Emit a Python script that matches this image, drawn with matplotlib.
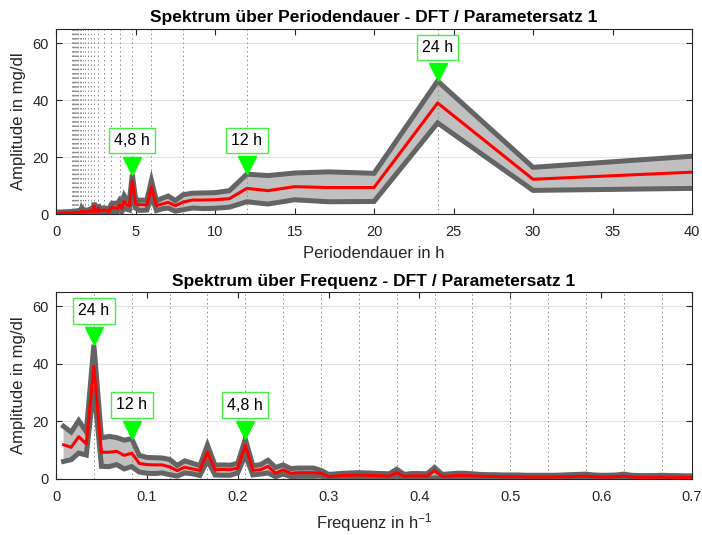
import numpy as np
import matplotlib
matplotlib.use("Agg")
import matplotlib.pyplot as plt
from matplotlib import ticker
from matplotlib.transforms import offset_copy

plt.rcParams['font.family'] = ['Liberation Sans', 'DejaVu Sans']
plt.rcParams['mathtext.fontset'] = 'custom'
plt.rcParams['mathtext.rm'] = 'Liberation Sans'
plt.rcParams['mathtext.it'] = 'Liberation Sans:italic'
plt.rcParams['mathtext.bf'] = 'Liberation Sans:bold'

# DFT bins: k / 120 h (5 days of data), k = 1..84 visible up to 0.7 1/h
n_hours = 120
bins = np.arange(1, 85)

amp_upper = [18.3, 16.3, 20.3, 16.4, 46.7, 14.3, 14.8, 14.4, 13.5, 14.0,
             8.2, 7.5, 7.4, 7.3, 6.8, 4.7, 6.3, 5.5, 4.6, 11.8,
             4.8, 4.9, 4.8, 5.5, 13.9, 4.6, 5.0, 6.5, 4.0, 4.9,
             3.6, 3.8, 3.8, 3.8, 3.0, 1.6, 1.8, 2.0, 2.1, 2.2,
             2.1, 2.0, 1.9, 1.8, 3.4, 1.6, 1.9, 1.9, 1.8, 4.0,
             1.6, 1.8, 2.0, 2.0, 1.8, 1.6, 1.5, 1.5, 1.4, 1.4,
             1.4, 1.3, 1.3, 1.3, 1.3, 1.3, 1.4, 1.5, 1.6, 1.7,
             1.4, 1.3, 1.3, 1.4, 1.7, 1.3, 1.2, 1.2, 1.2, 1.3,
             1.2, 1.2, 1.1, 1.1]
amp_mean = [11.9, 11.0, 14.7, 12.2, 39.0, 9.3, 9.3, 9.6, 8.2, 9.0,
            5.4, 5.0, 4.9, 4.9, 4.2, 2.9, 4.1, 3.5, 3.0, 9.4,
            3.2, 3.3, 3.2, 3.8, 11.7, 3.0, 3.2, 4.4, 2.0, 3.2,
            2.0, 2.2, 2.2, 2.2, 2.0, 0.8, 1.0, 1.2, 1.3, 1.4,
            1.3, 1.2, 1.1, 1.0, 2.2, 0.9, 1.1, 1.1, 1.0, 2.8,
            0.9, 1.0, 1.2, 1.2, 1.1, 1.0, 0.9, 0.9, 0.8, 0.8,
            0.8, 0.7, 0.7, 0.7, 0.7, 0.7, 0.8, 0.8, 0.9, 1.0,
            0.8, 0.7, 0.7, 0.8, 1.0, 0.7, 0.6, 0.6, 0.6, 0.7,
            0.6, 0.6, 0.5, 0.5]
amp_lower = [6.1, 6.7, 9.0, 8.3, 32.0, 4.4, 4.3, 5.0, 3.5, 4.3,
             2.4, 2.0, 1.9, 2.1, 1.5, 1.0, 2.1, 1.8, 1.2, 6.5,
             1.4, 1.3, 1.3, 2.1, 8.3, 1.4, 1.7, 2.1, 0.8, 1.7,
             0.8, 0.9, 0.9, 0.9, 1.0, 0.2, 0.3, 0.4, 0.5, 0.5,
             0.5, 0.4, 0.4, 0.3, 1.0, 0.3, 0.4, 0.4, 0.3, 0.4,
             0.3, 0.3, 0.4, 0.4, 0.4, 0.3, 0.2, 0.2, 0.2, 0.2,
             0.2, 0.2, 0.2, 0.2, 0.2, 0.2, 0.2, 0.2, 0.3, 0.3,
             0.2, 0.2, 0.2, 0.2, 0.3, 0.2, 0.1, 0.1, 0.1, 0.2,
             0.1, 0.1, 0.1, 0.1]

# high frequency tail (only visible near 0 h in the period plot)
tail_freq = [0.8, 1.0, 1.5, 2.0, 3.0, 6.0]
tail_upper = [1.0, 0.9, 0.8, 0.8, 0.7, 0.7]
tail_mean = [0.5, 0.4, 0.3, 0.3, 0.3, 0.2]
tail_lower = [0.1, 0.1, 0.1, 0.1, 0.0, 0.0]

peak_periods = [24, 12, 4.8]
peak_texts = ['24 h', '12 h', '4,8 h']
marker_periods = [24 / k for k in range(1, 25)]

freq = np.concatenate([bins / n_hours, tail_freq])
upper = np.array(amp_upper + tail_upper)
mean = np.array(amp_mean + tail_mean)
lower = np.array(amp_lower + tail_lower)
period = 1 / freq

fig = plt.figure(figsize=(7.02, 5.35), dpi=100)
ax1 = fig.add_axes([0.0798, 0.600, 0.906, 0.3458])
ax2 = fig.add_axes([0.0798, 0.1047, 0.906, 0.3495])

GRAY = '#646464'
TXT = '#262626'


def draw_band(ax, x, xl, vlines):
    ax.fill_between(x, lower, upper, color='#c0c0c0', lw=0, zorder=1)
    for v in vlines:
        ax.axvline(v, color='#8c8c8c', lw=0.7, ls=(0, (1.5, 3)), zorder=1.5)
    ax.plot(x, upper, color=GRAY, lw=3.6, zorder=2, solid_joinstyle='miter')
    ax.plot(x, lower, color=GRAY, lw=3.6, zorder=2, solid_joinstyle='miter')
    ax.plot(x, mean, color='#ff0000', lw=2.2, zorder=3)
    ax.set_xlim(*xl)
    ax.set_ylim(0, 65)
    ax.set_yticks([0, 20, 40, 60])
    ax.yaxis.grid(True, color='#e3e3e3', lw=0.8)
    ax.set_axisbelow(True)
    ax.tick_params(direction='in', top=True, right=True, length=4.3,
                   width=0.8, labelsize=10.5, colors=TXT)
    ax.tick_params(axis='x', pad=8)
    ax.tick_params(axis='y', pad=5)
    for s in ax.spines.values():
        s.set_color(TXT)
        s.set_linewidth(0.8)
    ax.set_ylabel('Amplitude in mg/dl', fontsize=12, color=TXT, labelpad=5)


def peak_label(ax, x, y, text):
    tr = offset_copy(ax.transData, fig=fig, y=6.3, units='points')
    ax.plot([x], [y], marker='v', ms=12.6, color='#00ff00', mec='#00ff00',
            transform=tr, zorder=6, clip_on=False)
    ax.annotate(text, xy=(x, y), xytext=(0, 24.3), textcoords='offset points',
                ha='center', va='center', fontsize=11.5, color='black', zorder=7,
                bbox=dict(boxstyle='square,pad=0.33', fc='white',
                          ec='#44ee44', lw=1.0))


# top: spectrum over period
draw_band(ax1, period, (0, 40), marker_periods)
ax1.set_xticks(np.arange(0, 41, 5))
ax1.set_xlabel('Periodendauer in h', fontsize=12, color=TXT, labelpad=5)
ax1.set_title('Spektrum über Periodendauer - DFT / Parametersatz 1',
              fontsize=12.5, fontweight='bold', pad=5)
for p, t in zip(peak_periods, peak_texts):
    i = int(np.argmin(np.abs(period - p)))
    peak_label(ax1, period[i], upper[i], t)

# bottom: spectrum over frequency
draw_band(ax2, freq, (0, 0.7), [1 / p for p in marker_periods])
ax2.set_xticks(np.arange(0, 0.71, 0.1))
ax2.xaxis.set_major_formatter(ticker.FuncFormatter(lambda v, _: '%g' % round(v, 2)))
ax2.set_xlabel('Frequenz in h$^{-1}$', fontsize=12, color=TXT, labelpad=5)
ax2.set_title('Spektrum über Frequenz - DFT / Parametersatz 1',
              fontsize=12.5, fontweight='bold', pad=4)
for p, t in zip(peak_periods, peak_texts):
    i = int(np.argmin(np.abs(freq - 1 / p)))
    peak_label(ax2, freq[i], upper[i], t)

fig.savefig('out.png', dpi=100)
